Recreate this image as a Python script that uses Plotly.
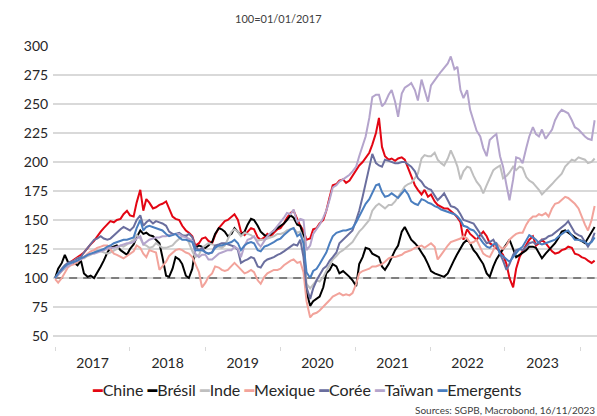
import pandas as pd
import plotly.graph_objects as go

# ---------------- data (semi-monthly readings, 1st and 15th of each month) ----------------
DATES = []
for yr in range(2017, 2024):
    for mo in range(1, 13):
        if yr == 2023 and mo > 11:
            break
        DATES.append(f"{yr}-{mo:02d}-01")
        DATES.append(f"{yr}-{mo:02d}-15")

chine = [
    100, 103, 106, 109, 112, 114, 116, 118, 120, 122, 126, 129, 132, 136, 140, 143, 146, 149, 148, 150, 151, 155, 158, 154,
    153, 165, 176, 158, 168, 165, 160, 161, 163, 164, 166, 160, 153, 151, 150, 145, 141, 139, 136, 128, 130, 134, 135, 132,
    130, 137, 143, 146, 149, 150, 153, 155, 150, 140, 137, 140, 143, 142, 135, 133, 135, 138, 136, 139, 142, 143, 147, 152,
    156, 158, 150, 145, 141, 133, 134, 142, 143, 147, 150, 158, 170, 180, 181, 184, 185, 182, 184, 188, 192, 197, 200, 204,
    208, 215, 225, 238, 213, 205, 202, 203, 201, 203, 204, 202, 195, 188, 180, 176, 172, 176, 170, 172, 166, 163, 161, 160,
    160, 158, 155, 152, 148, 133, 142, 138, 135, 133, 137, 140, 136, 130, 128, 126, 123, 120, 112, 100, 92, 108, 118, 123,
    129, 133, 136, 128, 130, 133, 130, 127, 123, 121, 122, 124, 125, 127, 126, 121, 120, 118, 117, 115, 113, 115,
]
bresil = [
    100, 108, 113, 120, 114, 112, 113, 111, 115, 104, 101, 102, 100, 104, 110, 115, 122, 126, 127, 128, 124, 122, 120, 125,
    129, 135, 141, 138, 139, 137, 136, 133, 130, 118, 102, 101, 108, 118, 116, 112, 102, 100, 108, 126, 128, 127, 126, 128,
    131, 138, 143, 142, 140, 136, 138, 143, 140, 137, 140, 146, 151, 150, 145, 140, 137, 136, 138, 141, 143, 145, 147, 150,
    154, 152, 146, 145, 136, 88, 76, 80, 82, 84, 92, 104, 107, 112, 110, 104, 106, 104, 101, 98, 93, 112, 118, 126,
    125, 121, 119, 118, 110, 107, 112, 118, 124, 128, 140, 144, 138, 133, 130, 127, 122, 118, 112, 106, 104, 103, 102, 101,
    104, 110, 116, 121, 126, 130, 133, 130, 124, 121, 116, 112, 104, 101, 110, 116, 121, 125, 130, 133, 125, 118, 120, 122,
    124, 127, 127, 126, 121, 117, 121, 124, 127, 130, 135, 140, 141, 139, 137, 135, 133, 132, 130, 134, 139, 144,
]
inde = [
    100, 103, 106, 108, 112, 113, 115, 117, 118, 117, 119, 120, 122, 124, 123, 122, 121, 122, 124, 125, 128, 127, 129, 131,
    133, 137, 134, 129, 128, 126, 127, 130, 128, 126, 126, 127, 128, 131, 134, 136, 137, 130, 123, 118, 120, 126, 128, 130,
    129, 128, 127, 126, 128, 134, 140, 142, 140, 136, 139, 138, 137, 135, 132, 133, 133, 134, 135, 136, 138, 138, 139, 141,
    142, 143, 139, 140, 133, 95, 91, 94, 98, 97, 101, 106, 112, 116, 119, 122, 124, 126, 129, 131, 136, 140, 143, 146,
    150, 158, 162, 164, 162, 160, 163, 163, 166, 170, 176, 179, 181, 182, 186, 190, 203, 206, 205, 205, 208, 202, 199, 197,
    203, 210, 203, 196, 185, 192, 196, 195, 188, 183, 179, 173, 180, 186, 193, 195, 197, 186, 188, 191, 196, 193, 196, 195,
    187, 184, 182, 179, 176, 172, 175, 178, 181, 184, 187, 190, 196, 199, 202, 201, 204, 203, 202, 199, 200, 203,
]
mexique = [
    99, 96, 100, 105, 109, 111, 112, 114, 116, 118, 121, 123, 124, 126, 127, 128, 128, 125, 121, 120, 118, 117, 119, 121,
    123, 128, 126, 121, 118, 124, 123, 122, 107, 110, 114, 119, 122, 124, 125, 124, 122, 121, 118, 112, 105, 92, 96, 101,
    104, 110, 109, 107, 106, 107, 110, 113, 110, 107, 104, 105, 107, 105, 98, 95, 101, 104, 106, 107, 107, 108, 111, 113,
    115, 116, 113, 114, 105, 80, 66, 69, 70, 72, 75, 78, 81, 84, 86, 87, 85, 86, 85, 87, 95, 104, 106, 107,
    108, 110, 110, 111, 112, 114, 117, 118, 118, 119, 120, 122, 123, 124, 126, 127, 128, 126, 128, 130, 127, 116, 120, 124,
    128, 131, 132, 133, 134, 136, 134, 130, 131, 133, 127, 121, 119, 118, 124, 130, 127, 125, 128, 133, 136, 138, 139, 139,
    146, 150, 153, 153, 155, 154, 156, 153, 160, 164, 165, 167, 170, 169, 166, 164, 160, 153, 146, 141, 150, 162,
]
coree = [
    100, 104, 108, 111, 113, 114, 115, 117, 118, 122, 126, 130, 133, 134, 136, 134, 133, 134, 137, 139, 142, 144, 142, 141,
    144, 150, 154, 145, 148, 150, 147, 149, 148, 147, 145, 140, 138, 138, 139, 137, 136, 138, 135, 127, 124, 126, 122, 121,
    122, 128, 129, 130, 130, 129, 128, 127, 124, 113, 115, 116, 118, 117, 110, 109, 114, 116, 117, 118, 120, 121, 123, 125,
    127, 129, 128, 133, 118, 92, 82, 91, 98, 102, 108, 110, 115, 118, 122, 130, 133, 136, 138, 141, 150, 158, 170, 182,
    195, 207, 199, 197, 196, 202, 201, 200, 199, 199, 200, 200, 198, 196, 192, 186, 183, 179, 177, 176, 171, 167, 170, 173,
    167, 162, 161, 159, 155, 150, 149, 148, 147, 143, 138, 135, 130, 131, 133, 128, 121, 115, 107, 112, 120, 124, 125, 124,
    127, 130, 131, 129, 131, 133, 134, 136, 137, 139, 142, 144, 146, 149, 144, 139, 137, 136, 131, 127, 132, 139,
]
taiwan = [
    100, 103, 106, 109, 110, 112, 114, 115, 116, 118, 120, 121, 121, 122, 123, 124, 125, 126, 126, 127, 128, 129, 130, 130,
    131, 134, 136, 129, 131, 133, 134, 135, 135, 136, 136, 137, 137, 138, 138, 136, 135, 134, 132, 121, 118, 120, 120, 116,
    116, 118, 121, 122, 123, 124, 124, 127, 125, 118, 128, 133, 134, 136, 130, 127, 132, 136, 139, 141, 145, 148, 152, 156,
    155, 159, 148, 151, 150, 124, 128, 138, 142, 146, 152, 158, 168, 178, 180, 183, 185, 187, 189, 192, 196, 205, 215, 222,
    238, 256, 258, 258, 248, 251, 258, 262, 252, 239, 259, 264, 266, 268, 262, 253, 271, 263, 252, 266, 271, 274, 278, 281,
    285, 291, 280, 282, 262, 255, 262, 245, 235, 227, 222, 212, 205, 219, 222, 224, 205, 196, 180, 167, 185, 204, 203, 199,
    212, 222, 230, 224, 222, 228, 220, 224, 228, 236, 242, 245, 243, 242, 236, 230, 228, 225, 222, 220, 219, 236,
]
emergents = [
    100, 104, 107, 110, 112, 113, 114, 115, 117, 118, 120, 121, 122, 123, 124, 125, 127, 128, 130, 131, 132, 133, 133, 134,
    135, 143, 150, 141, 144, 145, 144, 143, 142, 141, 138, 136, 137, 138, 135, 133, 133, 132, 131, 124, 124, 124, 122, 121,
    122, 126, 128, 128, 129, 130, 131, 133, 130, 124, 128, 130, 131, 130, 124, 123, 127, 128, 130, 131, 133, 134, 137, 139,
    142, 143, 136, 138, 130, 105, 100, 106, 108, 112, 117, 122, 130, 136, 139, 140, 141, 141, 142, 143, 148, 153, 159, 164,
    168, 173, 180, 181, 174, 170, 171, 173, 171, 169, 173, 176, 172, 166, 164, 163, 168, 167, 165, 164, 162, 161, 159, 158,
    157, 156, 155, 153, 150, 145, 144, 142, 141, 138, 133, 130, 127, 126, 129, 130, 121, 119, 116, 114, 118, 121, 125, 127,
    132, 137, 135, 133, 130, 129, 130, 131, 132, 133, 136, 138, 140, 141, 137, 133, 133, 132, 131, 129, 131, 135,
]

SERIES_NAMES = ["Chine", "Brésil", "Inde", "Mexique", "Corée", "Taïwan", "Emergents"]
SERIES_VALUES = [chine, bresil, inde, mexique, coree, taiwan, emergents]
SERIES_COLORS = ["#E30613", "#000000", "#BFBFBF", "#F2A39B", "#6A6E9E", "#B4A4CC", "#4A7EBF"]
YEAR_LABELS = ["2017", "2018", "2019", "2020", "2021", "2022", "2023"]
BASE = 100
Y_TICKS = [50, 75, 100, 125, 150, 175, 200, 225, 250, 275, 300]
SUBTITLE = "100=01/01/2017"
SOURCE = "Sources: SGPB, Macrobond, 16/11/2023"

FONT = "Lato, 'DejaVu Sans', sans-serif"

# ---------------- figure ----------------
fig = go.Figure()

fig.add_trace(go.Scatter(
    x=[DATES[0], DATES[-1]], y=[BASE, BASE], mode="lines",
    line=dict(color="#7F7F7F", width=2, dash="8px,6px"),
    showlegend=False, hoverinfo="skip",
))

for name, vals, col in zip(SERIES_NAMES, SERIES_VALUES, SERIES_COLORS):
    fig.add_trace(go.Scatter(
        x=DATES, y=vals, mode="lines", name=name,
        line=dict(color=col, width=2), showlegend=False,
    ))

# axis tick layout (Excel-like: boundary ticks + centred year labels)
start = pd.Timestamp("2017-01-01")
step = pd.Timedelta(days=348.8)
bounds = [start + i * step for i in range(len(YEAR_LABELS) + 1)]
label_pos = [b + step / 2 for b in bounds[:-1]]

fig.update_xaxes(
    type="date",
    range=["2016-12-22", "2023-11-26"],
    tickmode="array",
    tickvals=[d.strftime("%Y-%m-%d") for d in label_pos],
    ticktext=YEAR_LABELS,
    ticks="outside", ticklen=4, tickcolor="rgba(0,0,0,0)",
    tickfont=dict(family=FONT, size=14, color="#262626"),
    showgrid=False, showline=False, zeroline=False,
    minor=dict(tickmode="array", tickvals=[d.strftime("%Y-%m-%d") for d in bounds],
               ticks="outside", ticklen=4, tickwidth=1, tickcolor="#D9D9D9", showgrid=False),
)
fig.update_yaxes(
    range=[41.38, 300.86],
    tickmode="array", tickvals=Y_TICKS,
    ticks="outside", ticklen=1, tickcolor="rgba(0,0,0,0)",
    tickfont=dict(family=FONT, size=14, color="#262626"),
    showgrid=True, gridcolor="#D9D9D9", gridwidth=1.5,
    showline=False, zeroline=False,
)

legend_text = " ".join(
    f"<span style='color:{c}'>━</span>{n}" for n, c in zip(SERIES_NAMES, SERIES_COLORS)
)

fig.update_layout(
    width=597, height=416,
    margin=dict(l=53, r=0, t=45, b=70),
    paper_bgcolor="white", plot_bgcolor="white",
    font=dict(family=FONT, color="#262626"),
    hovermode=False,
    annotations=[
        dict(text=SUBTITLE, xref="paper", yref="paper", x=0.4154, y=1.0897,
             xanchor="center", yanchor="middle", showarrow=False,
             font=dict(family=FONT, size=11, color="#404040")),
        dict(text=legend_text, xref="paper", yref="paper", x=0.466, y=-0.1429,
             xanchor="center", yanchor="middle", showarrow=False,
             font=dict(family=FONT, size=16, color="#262626")),
        dict(text=SOURCE, xref="paper", yref="paper", x=1.0, y=-0.213,
             xanchor="right", yanchor="middle", showarrow=False,
             font=dict(family=FONT, size=10, color="#404040")),
    ],
)

fig.write_html(
    "out.html",
    config={"displayModeBar": False},
    post_script="document.body.style.margin='0';document.body.style.overflow='hidden';",
)
